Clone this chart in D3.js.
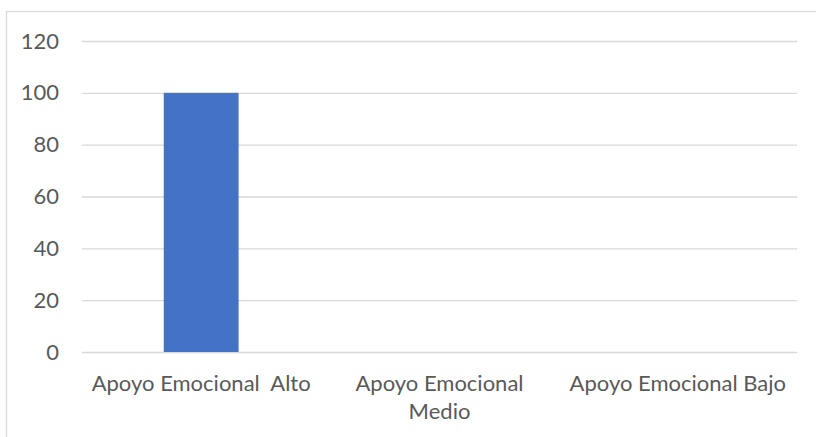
<!DOCTYPE html>
<html><head><meta charset="utf-8">
<script src="https://cdn.jsdelivr.net/npm/d3@7"></script>
<style>
html,body{margin:0;padding:0;background:#fff;}
svg{display:block;}
text{font-family:Lato,"Open Sans",sans-serif;fill:#595959;white-space:pre;}
</style></head>
<body>
<svg id="c" width="816" height="437"></svg>
<script>
const categories = ["Apoyo Emocional  Alto", "Apoyo Emocional Medio", "Apoyo Emocional Bajo"];
const categoryLines = [["Apoyo Emocional  Alto"], ["Apoyo Emocional", "Medio"], ["Apoyo Emocional Bajo"]];
const values = [100, 0, 0];
const yTicks = [0, 20, 40, 60, 80, 100, 120];

const svg = d3.select("#c");
const M = { left: 82, right: 797, top: 41, bottom: 352 };

// chart border (top/left visible)
svg.append("rect").attr("x", 6.5).attr("y", 11.5).attr("width", 830).attr("height", 460)
  .attr("fill", "none").attr("stroke", "#d9d9d9").attr("stroke-width", 1.3);

const x = d3.scaleBand().domain(categories).range([M.left, M.right]).paddingInner(0.686).paddingOuter(0.343);
const y = d3.scaleLinear().domain([0, 120]).range([M.bottom, M.top]);

const yAxis = d3.axisLeft(y).tickValues(yTicks).tickSize(-(M.right - M.left)).tickPadding(23);
const gy = svg.append("g").attr("transform", `translate(${M.left},0)`).call(yAxis);
gy.select(".domain").remove();
gy.selectAll(".tick line").attr("stroke", "#d9d9d9").attr("stroke-width", 1.3);
gy.selectAll(".tick text").attr("font-size", 22).attr("fill", "#595959")
  .attr("font-family", "Lato, 'Open Sans', sans-serif");

svg.append("g").selectAll("rect").data(values).join("rect")
  .attr("x", (d, i) => x(categories[i]))
  .attr("width", x.bandwidth())
  .attr("y", d => y(d))
  .attr("height", d => y(0) - y(d))
  .attr("fill", "#4472C4");

const xb = d3.scaleBand().domain(categories).range([M.left, M.right]);
const lab = svg.append("g").selectAll("text").data(categories).join("text")
  .attr("text-anchor", "middle")
  .attr("font-size", 22)
  .attr("x", d => xb(d) + xb.bandwidth() / 2)
  .attr("y", 391);
lab.each(function (d, i) {
  const t = d3.select(this);
  categoryLines[i].forEach((ln, j) => {
    t.append("tspan").attr("x", xb(d) + xb.bandwidth() / 2).attr("dy", j === 0 ? 0 : 28).text(ln);
  });
});
</script>
</body></html>
